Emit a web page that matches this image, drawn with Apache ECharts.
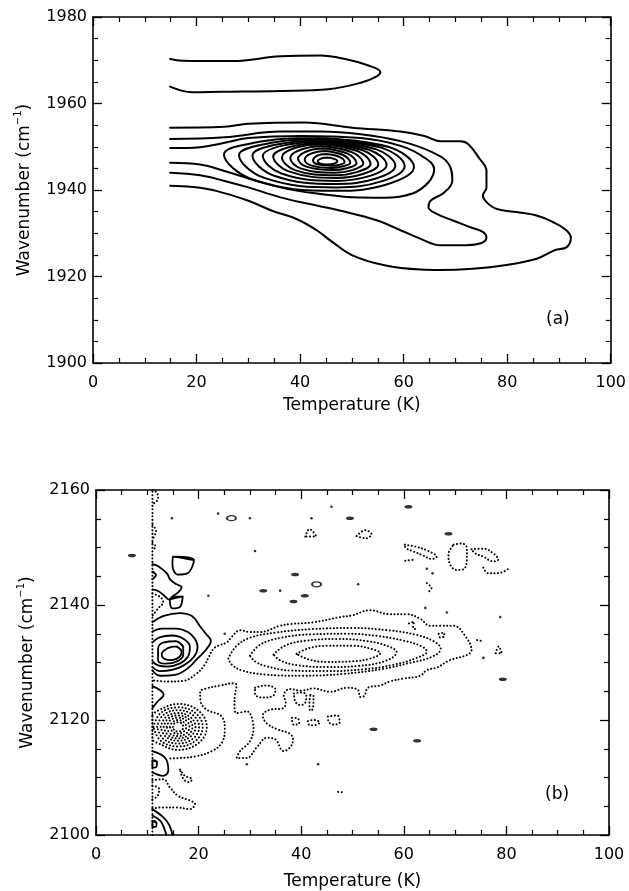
<!DOCTYPE html>
<html>
<head>
<meta charset="utf-8">
<script src="https://cdn.jsdelivr.net/npm/echarts@6/dist/echarts.min.js"></script>
<style>
  html, body { margin: 0; padding: 0; background: #fff; }
  #chart { width: 629px; height: 891px; }
</style>
</head>
<body>
<div id="chart"></div>
<script>
// ---------- Axis ranges ----------
const tempRange = [0, 100];
const wnRangeA = [1900, 1980];
const wnRangeB = [2100, 2160];

// ---------- Panel (a): contour paths, [temperature K, wavenumber cm-1] ----------
// Upper isolated band (open at the 15 K data edge)
const aUpperBand = [[14.9,1970.3],[17.2,1969.9],[26.9,1969.8],[36.2,1970.9],[43.9,1971.1],[49.3,1970.1],[53.2,1968.8],[55.5,1967.3],[54.8,1966.3],[51.7,1964.8],[45.5,1963.3],[36.2,1962.9],[24.6,1962.7],[19.2,1962.6],[14.9,1963.9]];
// Outer contours of the main band (open at the data edge)
const aOuter1 = [[14.9,1954.4],[25.4,1954.6],[30.0,1955.3],[40.8,1955.6],[50.1,1954.4],[59.4,1953.5],[64.0,1952.5],[67.1,1951.3],[71.0,1951.3],[72.5,1950.6],[74.5,1947.5],[76.0,1944.4],[76.0,1940.6],[75.3,1938.7],[76.0,1937.2],[78.0,1935.6],[81.8,1934.9],[85.7,1934.1],[88.8,1932.6],[91.1,1931.0],[92.3,1929.0],[91.5,1926.8],[89.2,1926.1],[85.7,1924.1],[79.5,1922.6],[73.3,1921.8],[67.1,1921.5],[63.3,1921.6],[56.3,1922.6],[50.1,1924.9],[46.2,1928.0],[43.2,1930.7],[39.3,1933.3],[34.6,1935.2],[30.0,1937.5],[23.8,1939.8],[19.2,1940.7],[14.9,1941.0]];
const aOuter2 = [[14.9,1951.8],[25.4,1952.2],[36.2,1953.5],[43.9,1953.5],[51.7,1952.9],[59.4,1951.3],[65.6,1948.7],[68.7,1946.0],[69.4,1942.1],[67.9,1939.5],[65.2,1937.5],[64.8,1936.0],[66.4,1934.5],[69.4,1933.0],[72.9,1931.4],[75.3,1930.3],[76.0,1929.0],[74.9,1927.7],[71.0,1927.2],[67.1,1927.2],[63.3,1928.7],[59.4,1930.7],[54.8,1933.0],[47.8,1935.2],[41.6,1936.8],[36.2,1938.3],[30.0,1940.6],[25.4,1942.1],[20.7,1943.4],[14.9,1944.0]];
const aOuter3 = [[14.9,1949.7],[20.7,1949.9],[25.0,1950.8],[30.0,1952.0],[40.1,1952.5],[51.7,1952.0],[59.4,1950.2],[64.0,1947.5],[65.9,1944.8],[64.8,1941.8],[61.7,1939.2],[56.3,1938.2],[50.1,1938.3],[43.9,1939.1],[37.7,1940.2],[31.6,1942.1],[25.4,1944.4],[20.7,1945.9],[14.9,1946.3]];
// Closed rings around the maximum near 45 K / 1947 cm-1, outermost first
const aRings = [
  [[43.0,1952.0],[57.0,1950.0],[62.0,1945.3],[57.0,1941.4],[47.0,1939.8],[31.1,1942.3],[25.3,1948.2],[31.1,1950.9]],
  [[43.2,1951.7],[55.7,1949.8],[60.2,1945.5],[55.7,1942.0],[47.0,1940.6],[33.1,1942.8],[28.2,1948.1],[33.1,1950.6]],
  [[43.4,1951.4],[54.5,1949.5],[58.4,1945.6],[54.5,1942.6],[47.0,1941.4],[35.0,1943.3],[30.8,1948.0],[35.0,1950.4]],
  [[43.6,1951.1],[53.3,1949.3],[56.7,1945.8],[53.3,1943.2],[47.0,1942.1],[36.4,1943.8],[32.8,1947.9],[36.4,1950.2]],
  [[43.8,1950.8],[52.1,1949.2],[55.1,1945.9],[52.1,1943.7],[47.0,1942.8],[37.8,1944.3],[34.8,1947.8],[37.8,1949.9]],
  [[44.0,1950.5],[51.1,1949.0],[53.6,1946.0],[51.1,1944.2],[46.8,1943.4],[39.0,1944.6],[36.5,1947.6],[39.0,1949.7]],
  [[44.2,1950.1],[50.1,1948.7],[52.2,1946.1],[50.1,1944.6],[46.6,1944.0],[40.1,1945.0],[38.1,1947.4],[40.1,1949.3]],
  [[44.4,1949.6],[49.2,1948.4],[50.9,1946.2],[49.2,1945.1],[46.4,1944.6],[41.2,1945.4],[39.6,1947.2],[41.2,1948.9]],
  [[44.6,1949.0],[48.3,1948.1],[49.7,1946.3],[48.3,1945.5],[46.2,1945.1],[42.1,1945.7],[40.9,1947.0],[42.1,1948.4]],
  [[45.0,1948.3],[47.5,1947.7],[48.6,1946.4],[47.5,1945.8],[46.0,1945.6],[43.2,1946.0],[42.5,1946.8],[43.2,1947.9]],
  [[45.2,1947.5],[46.6,1947.2],[47.2,1946.7],[46.6,1946.1],[45.2,1945.9],[43.9,1946.1],[43.4,1946.7],[43.9,1947.2]]
];

// ---------- Panel (b): positive (solid) contours ----------
const bSolidOpen = [
  [[11.0,2137.0],[13.2,2138.1],[16.3,2138.6],[18.7,2138.1],[20.2,2136.4],[21.4,2135.0],[22.4,2133.8],[21.6,2132.4],[19.8,2130.7],[17.9,2129.0],[15.6,2127.9],[12.5,2127.7],[11.0,2128.6]],
  [[11.0,2135.4],[12.8,2135.9],[15.6,2135.9],[17.9,2135.3],[19.3,2134.1],[19.8,2132.7],[19.1,2131.0],[17.1,2129.5],[14.8,2128.7],[12.5,2128.5],[11.0,2129.2]],
  [[11.0,2133.5],[12.5,2134.4],[14.8,2134.7],[17.1,2134.1],[18.3,2132.7],[17.9,2131.0],[16.3,2129.8],[14.0,2129.3],[12.1,2129.5],[11.0,2130.2]],
  [[11.0,2147.1],[12.2,2146.7],[13.9,2145.4],[14.4,2144.5],[15.7,2143.6],[16.7,2143.1],[16.0,2142.2],[14.8,2141.4],[14.3,2140.9],[13.3,2141.6],[12.2,2142.4],[11.0,2142.7]],
  [[11.0,2145.8],[11.7,2145.2],[11.0,2144.5]],
  [[11.0,2125.9],[13.2,2124.4],[12.1,2123.3],[11.0,2122.1]],
  [[11.0,2114.6],[13.5,2113.4],[14.1,2111.2],[13.1,2110.3],[11.0,2110.9]],
  [[11.0,2104.5],[13.1,2103.1],[14.3,2101.7],[14.9,2100.0]],
  [[11.0,2103.4],[12.6,2102.4],[13.4,2100.9],[13.7,2100.0]]
];
const bSolidClosed = [
  [[15.6,2133.7],[17.0,2132.7],[17.0,2131.3],[15.8,2130.2],[13.6,2129.8],[12.1,2130.4],[12.1,2132.4],[13.2,2133.5]],
  [[15.6,2132.8],[16.7,2131.9],[16.3,2131.0],[14.8,2130.4],[13.2,2130.7],[12.8,2131.5],[14.0,2132.5]],
  [[14.4,2141.0],[16.9,2141.5],[16.3,2139.6],[14.9,2139.4]],
  [[15.0,2148.4],[19.1,2147.8],[17.8,2145.5],[15.9,2145.3],[14.9,2147.1]],
  [[11.0,2113.0],[11.9,2112.7],[11.8,2111.9],[11.0,2111.7]],
  [[11.0,2102.5],[11.8,2102.1],[11.6,2101.4],[11.0,2101.4]]
];

// ---------- Panel (b): negative (dotted) contours ----------
const bDottedOpen = [
  // data edge
  [[11.0,2100.0],[11.0,2160.0]],
  // large irregular contour around the 2131 band and the lower lobes
  [[14.5,2113.3],[16.4,2113.4],[19.6,2113.7],[22.6,2114.6],[24.5,2116.0],[25.1,2118.3],[24.5,2120.6],[21.6,2121.8],[20.4,2123.2],[20.3,2124.9],[21.6,2125.5],[24.2,2126.0],[26.8,2126.4],[27.4,2126.1],[27.1,2124.4],[27.0,2122.5],[27.4,2121.2],[29.4,2121.5],[30.7,2118.6],[30.0,2116.3],[28.1,2114.6],[27.4,2113.4],[29.4,2113.4],[31.3,2115.2],[33.3,2116.9],[35.0,2116.6],[36.5,2114.6],[37.8,2115.2],[38.4,2116.6],[37.8,2117.6],[35.3,2118.4],[33.3,2119.4],[32.5,2120.8],[34.0,2121.8],[36.3,2122.0],[37.0,2123.0],[36.6,2124.3],[37.8,2125.4],[40.0,2125.1],[42.4,2125.5],[45.6,2124.9],[48.9,2125.6],[51.0,2125.3],[51.5,2124.0],[52.3,2124.2],[53.0,2125.6],[55.4,2126.0],[57.3,2126.7],[59.9,2127.2],[63.2,2127.7],[64.5,2128.7],[66.4,2129.1],[69.0,2130.4],[72.3,2131.3],[73.2,2132.1],[71.9,2134.7],[69.7,2136.4],[67.1,2136.4],[65.1,2136.4],[63.2,2137.6],[60.6,2138.4],[57.3,2138.4],[53.4,2139.1],[50.0,2138.2],[47.6,2137.9],[42.4,2137.0],[38.0,2136.7],[35.9,2136.4],[32.0,2135.3],[30.0,2135.3],[28.1,2135.6],[26.5,2134.5],[25.5,2133.5],[23.8,2132.9],[22.9,2132.4],[22.0,2131.0],[21.2,2129.6],[19.5,2128.0],[17.0,2126.8],[14.0,2126.7],[11.0,2126.9]],
  [[11.0,2109.5],[13.1,2109.7],[14.4,2108.3],[16.0,2106.8],[18.3,2106.0],[19.3,2105.4],[18.3,2104.5],[15.7,2104.8],[13.1,2104.8],[11.0,2104.6]],
  [[11.0,2108.6],[12.3,2108.0],[12.0,2106.8],[11.0,2106.2]],
  [[11.0,2142.0],[12.5,2141.4],[13.1,2140.5],[12.1,2139.4],[11.0,2138.1]],
  [[11.0,2160.0],[11.9,2159.5],[12.1,2158.5],[11.5,2157.8],[11.0,2157.6]],
  [[11.0,2153.9],[11.7,2152.9],[11.2,2151.7]],
  [[11.0,2150.8],[11.6,2150.2],[11.1,2149.5]],
  [[60.3,2147.7],[62.2,2147.9]],
  [[75.5,2146.5],[76.5,2145.5],[78.8,2145.6],[80.7,2146.5]],
  [[64.5,2143.8],[65.4,2142.9],[64.8,2142.3]],
  [[61.0,2136.8],[62.0,2137.1],[61.8,2136.0],[62.8,2135.8]],
  [[74.3,2133.9],[75.6,2133.7]],
  [[47.2,2107.5],[48.4,2107.4]]
];
const bDottedClosed = [
  // smooth nested band centred near 45 K / 2131 cm-1
  [[39.1,2131.5],[41.5,2132.5],[45.0,2132.9],[50.0,2132.9],[53.5,2132.4],[55.4,2131.6],[53.5,2130.7],[50.0,2130.2],[45.0,2130.1],[41.5,2130.5]],
  [[34.6,2131.4],[37.0,2133.0],[41.0,2133.8],[47.0,2134.1],[53.0,2133.7],[57.0,2132.8],[58.6,2131.8],[56.5,2130.3],[51.0,2129.4],[45.0,2129.2],[39.5,2129.5],[36.0,2130.3]],
  [[30.0,2131.2],[32.0,2133.1],[36.0,2134.3],[42.0,2134.9],[49.0,2135.0],[55.0,2134.6],[60.0,2133.8],[63.5,2132.8],[64.5,2131.9],[62.5,2130.8],[58.0,2129.6],[52.0,2128.8],[45.0,2128.5],[38.0,2128.6],[33.0,2129.4],[31.0,2130.2]],
  [[25.8,2130.7],[27.3,2132.8],[30.0,2134.3],[35.0,2135.2],[42.0,2135.8],[50.0,2136.0],[57.0,2135.6],[62.5,2134.8],[66.0,2133.6],[67.2,2132.4],[65.5,2131.0],[61.0,2129.9],[56.0,2128.9],[48.0,2128.0],[40.0,2127.7],[33.0,2127.9],[28.5,2128.6],[26.5,2129.6]],
  // deep minimum near 16 K / 2119 cm-1
  [[11.0,2120.9],[12.0,2121.6],[16.0,2122.8],[20.0,2121.6],[21.6,2118.8],[20.0,2116.0],[16.0,2114.8],[12.0,2116.0],[11.0,2116.7]],
  [[11.2,2118.8],[12.6,2121.2],[16.0,2122.2],[19.4,2121.2],[20.8,2118.8],[19.4,2116.4],[16.0,2115.4],[12.6,2116.4]],
  [[11.9,2118.8],[13.1,2120.85],[16.0,2121.7],[18.9,2120.85],[20.1,2118.8],[18.9,2116.75],[16.0,2115.9],[13.1,2116.75]],
  [[12.6,2118.8],[13.6,2120.5],[16.0,2121.2],[18.4,2120.5],[19.4,2118.8],[18.4,2117.1],[16.0,2116.4],[13.6,2117.1]],
  [[13.2,2118.8],[14.0,2120.2],[16.0,2120.8],[18.0,2120.2],[18.8,2118.8],[18.0,2117.4],[16.0,2116.8],[14.0,2117.4]],
  [[13.8,2118.8],[14.4,2119.9],[16.0,2120.4],[17.6,2119.9],[18.2,2118.8],[17.6,2117.7],[16.0,2117.2],[14.4,2117.7]],
  [[14.4,2118.8],[14.9,2119.6],[16.0,2120.0],[17.1,2119.6],[17.6,2118.8],[17.1,2118.0],[16.0,2117.6],[14.9,2118.0]],
  [[15.0,2118.8],[15.3,2119.4],[16.0,2119.6],[16.7,2119.4],[17.0,2118.8],[16.7,2118.2],[16.0,2118.0],[15.3,2118.2]],
  // small lobes below the band
  [[31.0,2125.6],[33.0,2126.0],[35.0,2125.3],[34.5,2124.2],[32.5,2123.9],[31.0,2124.5]],
  [[38.6,2124.6],[40.0,2124.8],[41.0,2124.3],[40.8,2123.0],[39.8,2122.6],[38.8,2123.3]],
  [[41.8,2124.4],[42.4,2124.2],[42.3,2122.0],[41.8,2121.6],[41.6,2123.0]],
  [[38.2,2120.4],[39.3,2120.3],[39.6,2119.4],[38.5,2119.2]],
  [[41.3,2119.8],[42.4,2120.0],[43.6,2119.6],[42.6,2119.1],[41.5,2119.2]],
  [[45.2,2120.6],[47.0,2120.8],[47.5,2119.6],[46.3,2119.2],[45.3,2119.8]],
  [[16.4,2111.4],[17.3,2110.3],[18.7,2109.7],[18.2,2109.2],[17.0,2109.8]],
  // scattered features at high wavenumber
  [[40.8,2151.9],[41.6,2153.2],[42.9,2152.0]],
  [[50.8,2152.0],[52.5,2153.0],[53.7,2152.3],[52.6,2151.6]],
  [[60.2,2150.5],[62.5,2150.1],[64.5,2149.5],[66.4,2148.4],[65.4,2148.0],[63.8,2148.6],[61.9,2149.3],[60.4,2149.9]],
  [[69.7,2150.5],[71.3,2150.7],[72.3,2149.9],[72.3,2147.9],[71.6,2146.2],[70.3,2146.1],[69.0,2147.1],[68.7,2148.8]],
  [[73.2,2149.7],[75.5,2149.8],[77.4,2149.0],[78.4,2147.9],[77.4,2147.6],[75.5,2148.4],[73.9,2149.0]],
  [[66.8,2135.0],[67.8,2135.2],[67.9,2134.5],[67.0,2134.4]],
  [[77.9,2131.6],[78.5,2132.8],[79.1,2131.6]]
];

// Isolated tiny positive features
const bSpeckDash = [[49.5,2155.1],[60.9,2157.1],[38.8,2145.3],[40.7,2141.6],[38.5,2140.6],[68.7,2152.4],[79.3,2127.1],[32.6,2142.5],[62.6,2116.4],[7.0,2148.6],[54.1,2118.4]];
const bSpeckRing = [[26.4,2155.1],[43.0,2143.6]];
const bSpeckDot = [[14.8,2155.1],[23.8,2155.9],[30.0,2155.1],[31.0,2149.4],[45.9,2157.1],[42.0,2155.1],[51.1,2143.6],[21.9,2141.6],[25.1,2135.0],[35.9,2142.5],[64.2,2139.5],[68.4,2138.7],[78.8,2137.9],[75.5,2130.8],[64.5,2146.3],[65.6,2145.5],[43.3,2112.3],[29.4,2112.3]];

// ---------- Chart construction ----------
const FONT = 'DejaVu Sans';
const BLACK = '#000';

function xAxisDef(grid, pos, withLabels) {
  return {
    type: 'value', gridIndex: grid, position: pos,
    min: tempRange[0], max: tempRange[1], interval: 20,
    axisLine: { show: true, onZero: false, lineStyle: { color: BLACK, width: 1.6 } },
    axisTick: { show: true, inside: true, length: 9, lineStyle: { color: BLACK, width: 1.3 } },
    minorTick: { show: true, splitNumber: 4, length: 5, lineStyle: { color: BLACK, width: 1.2 } },
    splitLine: { show: false }, minorSplitLine: { show: false },
    axisLabel: { show: withLabels, color: BLACK, fontSize: 16, fontFamily: FONT, margin: 12,
                 formatter: v => String(v) },
    name: withLabels ? 'Temperature (K)' : '',
    nameLocation: 'middle', nameGap: grid === 0 ? 34 : 38,
    nameTextStyle: { color: BLACK, fontSize: 17, fontFamily: FONT }
  };
}
function yAxisDef(grid, pos, withLabels, range) {
  return {
    type: 'value', gridIndex: grid, position: pos,
    min: range[0], max: range[1], interval: 20,
    axisLine: { show: true, onZero: false, lineStyle: { color: BLACK, width: 1.6 } },
    axisTick: { show: true, inside: true, length: 9, lineStyle: { color: BLACK, width: 1.3 } },
    minorTick: { show: true, splitNumber: 4, length: 5, lineStyle: { color: BLACK, width: 1.2 } },
    splitLine: { show: false }, minorSplitLine: { show: false },
    axisLabel: { show: withLabels, color: BLACK, fontSize: 16, fontFamily: FONT, margin: 6,
                 formatter: v => String(v) },
    name: withLabels ? 'Wavenumber (cm{s|\u22121})' : '',
    nameLocation: 'middle', nameGap: 53,
    nameTextStyle: {
      color: BLACK, fontSize: 17, fontFamily: FONT, lineHeight: 22,
      rich: { s: { fontSize: 10, fontFamily: FONT, color: BLACK, verticalAlign: 'top', lineHeight: 12 } }
    }
  };
}

// Solid loops wrap one vertex past the start so the smoothed curve closes without a seam;
// dotted loops simply return to the start so no dots are drawn twice.
function pathSeries(grid, pts, closed, dotted) {
  let data = pts;
  if (closed) data = dotted ? pts.concat([pts[0]]) : pts.concat([pts[0], pts[1]]);
  return {
    type: 'line', xAxisIndex: grid * 2, yAxisIndex: grid * 2,
    data: data, symbol: 'none', showSymbol: false, smooth: 0.4,
    silent: true, animation: false, z: 3,
    lineStyle: dotted
      ? { color: BLACK, width: 2, type: [0.1, 3.4], cap: 'round' }
      : { color: BLACK, width: grid === 0 ? 2 : 1.8, cap: 'round', join: 'round' }
  };
}

const series = [];
series.push(pathSeries(0, aUpperBand, false, false));
series.push(pathSeries(0, aOuter1, false, false));
series.push(pathSeries(0, aOuter2, false, false));
series.push(pathSeries(0, aOuter3, false, false));
aRings.forEach(r => series.push(pathSeries(0, r, true, false)));

bSolidOpen.forEach(p => series.push(pathSeries(1, p, false, false)));
bSolidClosed.forEach(p => series.push(pathSeries(1, p, true, false)));
bDottedOpen.forEach(p => series.push(pathSeries(1, p, false, true)));
bDottedClosed.forEach(p => series.push(pathSeries(1, p, true, true)));

series.push({
  type: 'scatter', xAxisIndex: 2, yAxisIndex: 2, data: bSpeckDash,
  symbol: 'circle', symbolSize: [8, 3.5], silent: true, animation: false,
  itemStyle: { color: BLACK }
});
series.push({
  type: 'scatter', xAxisIndex: 2, yAxisIndex: 2, data: bSpeckRing,
  symbol: 'circle', symbolSize: [9, 5], silent: true, animation: false,
  itemStyle: { color: '#fff', borderColor: BLACK, borderWidth: 1.6 }
});
series.push({
  type: 'scatter', xAxisIndex: 2, yAxisIndex: 2, data: bSpeckDot,
  symbol: 'circle', symbolSize: 2.6, silent: true, animation: false,
  itemStyle: { color: BLACK }
});

const option = {
  backgroundColor: '#fff',
  animation: false,
  grid: [
    { left: 93, top: 17, width: 518, height: 346, containLabel: false },
    { left: 96, top: 490, width: 513, height: 348, containLabel: false }
  ],
  xAxis: [
    xAxisDef(0, 'bottom', true), xAxisDef(0, 'top', false),
    xAxisDef(1, 'bottom', true), xAxisDef(1, 'top', false)
  ],
  yAxis: [
    yAxisDef(0, 'left', true, wnRangeA), yAxisDef(0, 'right', false, wnRangeA),
    yAxisDef(1, 'left', true, wnRangeB), yAxisDef(1, 'right', false, wnRangeB)
  ],
  graphic: [
    { type: 'text', left: 546, top: 311, style: { text: '(a)', font: '17px "DejaVu Sans"', fill: BLACK } },
    { type: 'text', left: 545, top: 786, style: { text: '(b)', font: '17px "DejaVu Sans"', fill: BLACK } }
  ],
  series: series
};

const chart = echarts.init(document.getElementById('chart'), null, { renderer: 'canvas' });
chart.setOption(option);
</script>
</body>
</html>
